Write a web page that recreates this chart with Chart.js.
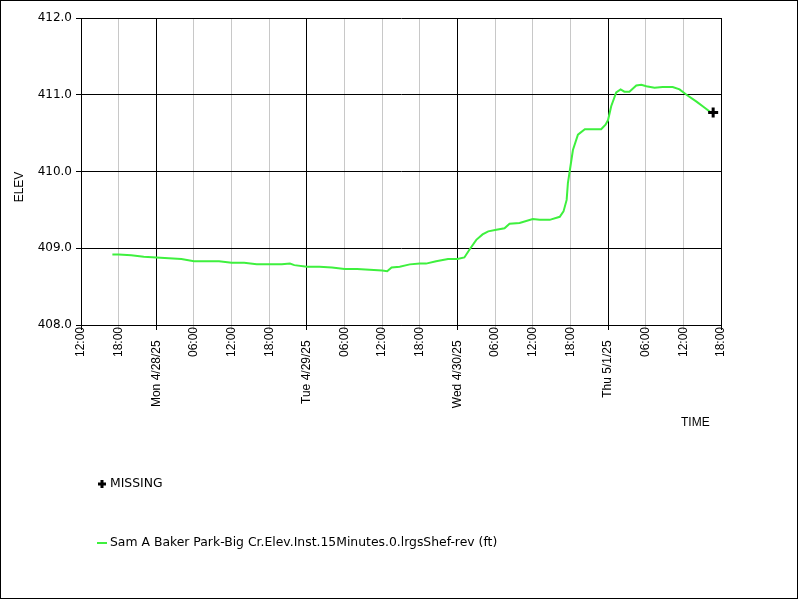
<!DOCTYPE html>
<html>
<head>
<meta charset="utf-8">
<script src="https://cdn.jsdelivr.net/npm/chart.js@4.4.1/dist/chart.umd.min.js"></script>
<style>
  html, body { margin: 0; padding: 0; background: #fff; }
  #wrap { width: 800px; height: 600px; }
</style>
</head>
<body>
<div id="wrap"><canvas id="elev" width="800" height="600"></canvas></div>
<script>
// hours since Sun 4/27/25 12:00
const hours = [5, 6, 8, 10, 12, 14, 16, 18, 20, 22, 24, 26, 28, 30, 32, 33.3, 34, 36, 38, 40,
  42, 44, 46, 48, 48.8, 49.5, 50.8, 52.4, 54, 55, 56.6, 58.5, 60, 61.1, 61.9, 63, 64, 64.9,
  66.2, 67.5, 68.3, 69.9, 72, 73.1, 74.7, 76.3, 76.9, 77.4, 77.6, 77.9, 78.4, 79.2, 80.3,
  81.6, 82.9, 83.6, 84, 84.5, 85.3, 86, 86.6, 87.4, 88.5, 89.3, 90.1, 91.4, 92.7, 94.3,
  95.4, 96.5, 98.1, 99.4, 100.2, 100.75]
const elev = [408.92, 408.92, 408.91, 408.89, 408.88, 408.87, 408.86, 408.83, 408.83, 408.83,
  408.81, 408.81, 408.79, 408.79, 408.79, 408.80, 408.78, 408.76, 408.76, 408.75,
  408.73, 408.73, 408.72, 408.71, 408.70, 408.75, 408.76, 408.79, 408.80, 408.80,
  408.83, 408.86, 408.86, 408.88, 408.98, 409.11, 409.18, 409.22, 409.24, 409.26,
  409.32, 409.33, 409.38, 409.37, 409.37, 409.41, 409.48, 409.63, 409.85, 410.01,
  410.28, 410.48, 410.55, 410.55, 410.55, 410.61, 410.67, 410.85, 411.03, 411.07,
  411.04, 411.04, 411.12, 411.13, 411.11, 411.09, 411.10, 411.10, 411.07, 411.00,
  410.91, 410.83, 410.78, 410.77]
const missingHours = [100.75]
const missingElev = [410.77]
const tickLabels = ['12:00', '18:00', 'Mon 4/28/25', '06:00', '12:00', '18:00', 'Tue 4/29/25',
  '06:00', '12:00', '18:00', 'Wed 4/30/25', '06:00', '12:00', '18:00', 'Thu 5/1/25',
  '06:00', '12:00', '18:00']
const seriesName = 'Sam A Baker Park-Big Cr.Elev.Inst.15Minutes.0.lrgsShef-rev (ft)'
const lineColor = '#3ef03e'

const font = "'Liberation Sans', Arial, sans-serif"
const wideFont = "'DejaVu Sans', Verdana, sans-serif"
Chart.defaults.font.family = font
Chart.defaults.font.size = 12
Chart.defaults.color = '#000'

// white page, frame, axis names and legend
const frame = {
  id: 'frame',
  beforeDraw(chart) {
    const c = chart.ctx
    c.save()
    c.fillStyle = '#fff'
    c.fillRect(0, 0, chart.width, chart.height)
    c.restore()
  },
  afterDraw(chart) {
    const c = chart.ctx
    c.save()
    c.strokeStyle = '#000'
    c.lineWidth = 1
    c.strokeRect(0.5, 0.5, 797, 598)
    c.font = '12px ' + font
    c.fillStyle = '#000'
    c.textBaseline = 'middle'
    c.fillText('TIME', 681, 423)
    c.save()
    c.translate(20, 187)
    c.rotate(-Math.PI / 2)
    c.textAlign = 'center'
    c.fillText('ELEV', 0, 0)
    c.restore()
    // MISSING item
    c.font = '12.4px ' + wideFont
    c.lineWidth = 3
    c.beginPath()
    c.moveTo(98, 484); c.lineTo(106, 484)
    c.moveTo(102, 480); c.lineTo(102, 488)
    c.stroke()
    c.fillText('MISSING', 110, 484)
    // series item
    c.strokeStyle = lineColor
    c.lineWidth = 2
    c.beginPath()
    c.moveTo(97, 543); c.lineTo(107, 543)
    c.stroke()
    c.fillText(chart.data.datasets[0].label, 110, 543)
    c.restore()
  }
}

const gridColor = (ctx) => {
  const v = ctx.tick && ctx.tick.value
  if (v === 0 || v === 102 || v % 24 === 12) return '#000'
  return '#c8c8c8'
}

new Chart(document.getElementById('elev'), {
  type: 'scatter',
  data: {
    datasets: [{
      label: seriesName,
      data: hours.map((h, i) => ({x: h, y: elev[i]})),
      showLine: true,
      borderColor: lineColor,
      borderWidth: 2,
      pointRadius: 0,
      tension: 0,
      order: 2
    }, {
      label: 'MISSING',
      data: missingHours.map((h, i) => ({x: h, y: missingElev[i]})),
      pointStyle: 'cross',
      pointRadius: 5,
      borderColor: '#000',
      borderWidth: 3,
      order: 1
    }]
  },
  options: {
    responsive: false,
    animation: false,
    layout: { padding: { left: 0, top: 18, right: 79, bottom: 0 } },
    plugins: { legend: { display: false }, tooltip: { enabled: false } },
    scales: {
      x: {
        type: 'linear',
        min: 0,
        max: 102,
        afterFit: (s) => { s.height = 275 },
        border: { color: '#000' },
        grid: { color: gridColor, tickColor: gridColor, tickLength: 5 },
        ticks: {
          stepSize: 6,
          autoSkip: false,
          maxRotation: 90,
          minRotation: 90,
          padding: -3,
          font: { family: font, size: 12 },
          // day labels sit a bit further from the axis
          callback: (v) => {
            const t = tickLabels[Math.round(v / 6)]
            return t.indexOf(' ') > 0 ? t + '    ' : t
          }
        }
      },
      y: {
        min: 408,
        max: 412,
        afterFit: (s) => { s.width = 81 },
        border: { color: '#000' },
        grid: { color: '#000', tickColor: '#000', tickLength: 5 },
        ticks: {
          stepSize: 1,
          padding: 4,
          font: { family: wideFont, size: 12 },
          callback: (v) => v.toFixed(1)
        }
      }
    }
  },
  plugins: [frame]
})
</script>
</body>
</html>
